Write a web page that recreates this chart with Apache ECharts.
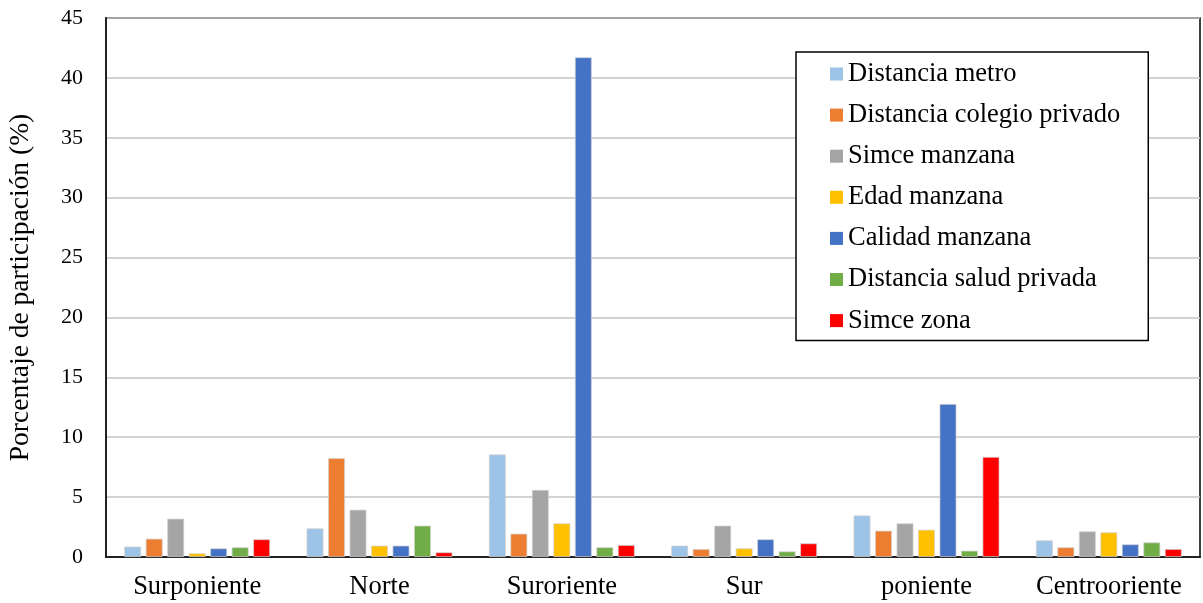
<!DOCTYPE html>
<html>
<head>
<meta charset="utf-8">
<script src="https://cdn.jsdelivr.net/npm/echarts@6/dist/echarts.min.js"></script>
<style>
  html, body { margin: 0; padding: 0; background: #fff; }
  #chart { width: 1203px; height: 603px; }
</style>
</head>
<body>
<div id="chart"></div>
<script>
// Zonas (categorías del eje X)
const zonas = ['Surponiente', 'Norte', 'Suroriente', 'Sur', 'poniente', 'Centrooriente'];

// Porcentaje de participación por variable y zona
const distanciaMetro   = [0.87, 2.39, 8.56, 0.95, 3.47, 1.39];
const distanciaColegio = [1.53, 8.25, 1.95, 0.67, 2.20, 0.81];
const simceManzana     = [3.20, 3.95, 5.60, 2.62, 2.81, 2.14];
const edadManzana      = [0.31, 0.95, 2.81, 0.72, 2.28, 2.06];
const calidadManzana   = [0.72, 0.95, 41.72, 1.48, 12.78, 1.06];
const distanciaSalud   = [0.81, 2.62, 0.81, 0.47, 0.53, 1.22];
const simceZona        = [1.48, 0.39, 1.00, 1.14, 8.36, 0.67];

const nombres = ['Distancia metro', 'Distancia colegio privado', 'Simce manzana',
                 'Edad manzana', 'Calidad manzana', 'Distancia salud privada', 'Simce zona'];
const valores = [distanciaMetro, distanciaColegio, simceManzana, edadManzana,
                 calidadManzana, distanciaSalud, simceZona];
const colores = ['#9DC3E6', '#ED7D31', '#A5A5A5', '#FFC000', '#4472C4', '#70AD47', '#FF0000'];

const fuente = '"Liberation Serif", "DejaVu Serif", serif';

const chart = echarts.init(document.getElementById('chart'), null, { renderer: 'canvas' });

chart.setOption({
  animation: false,
  textStyle: { fontFamily: fuente, color: '#000' },
  grid: {
    left: 106, right: 3, top: 18, bottom: 46,
    outerBoundsMode: 'none',
    containLabel: false,
    show: true, borderColor: '#000', borderWidth: 1.5, backgroundColor: 'transparent'
  },
  legend: {
    orient: 'vertical',
    left: 796, top: 52,
    padding: [8, 28, 6, 34],
    backgroundColor: '#fff',
    borderColor: '#000',
    borderWidth: 1.5,
    itemWidth: 13, itemHeight: 13, itemGap: 13.1,
    icon: 'rect',
    itemStyle: { borderWidth: 0 },
    textStyle: { fontFamily: fuente, fontSize: 26.5, color: '#000', lineHeight: 28 },
    data: nombres
  },
  xAxis: {
    type: 'category',
    data: zonas,
    axisLine: { lineStyle: { color: '#222', width: 2 } },
    axisTick: { show: false },
    axisLabel: { interval: 0, fontFamily: fuente, fontSize: 26.5, color: '#000', margin: 17 }
  },
  yAxis: {
    type: 'value',
    min: 0, max: 45, interval: 5,
    name: 'Porcentaje de participación (%)',
    nameLocation: 'middle',
    nameGap: 71,
    nameTextStyle: { fontFamily: fuente, fontSize: 27.5, color: '#000' },
    axisLine: { show: true, lineStyle: { color: '#222', width: 2 } },
    axisTick: { show: false },
    axisLabel: { fontFamily: fuente, fontSize: 22, color: '#000', margin: 23 },
    splitLine: { lineStyle: { color: '#c4c4c4', width: 1.5 } }
  },
  series: nombres.map((n, i) => ({
    name: n,
    type: 'bar',
    data: valores[i],
    barGap: '27%',
    barCategoryGap: '20%',
    itemStyle: { color: colores[i], borderColor: 'rgba(210,210,210,0.9)', borderWidth: 0.8 }
  }))
});
</script>
</body>
</html>
